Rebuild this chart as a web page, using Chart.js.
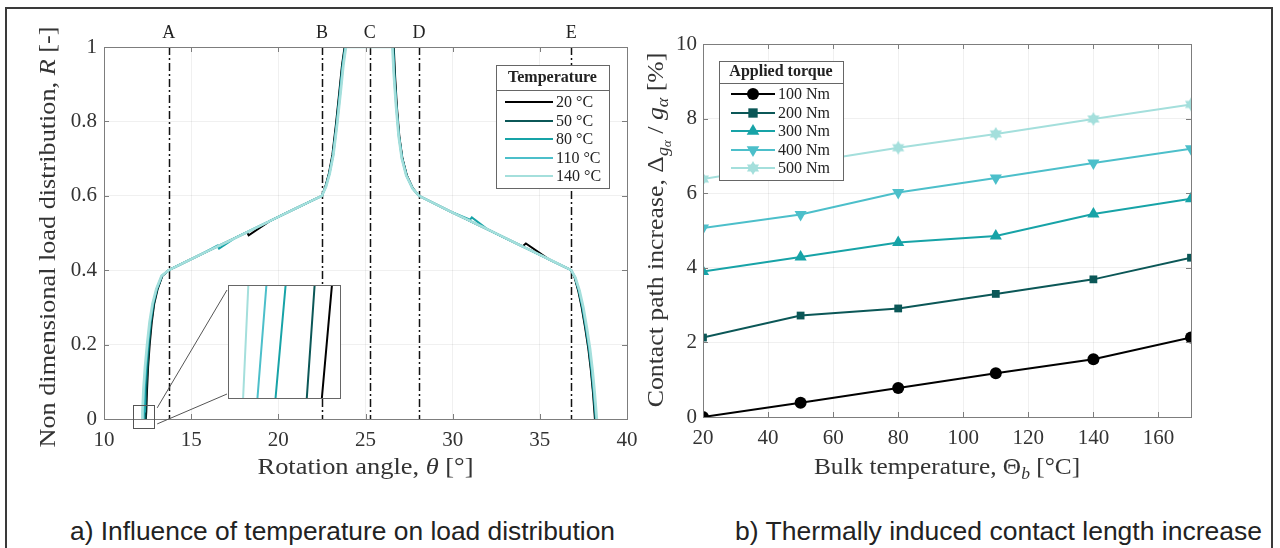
<!DOCTYPE html>
<html>
<head>
<meta charset="utf-8">
<script src="https://cdn.jsdelivr.net/npm/chart.js@4.4.0/dist/chart.umd.min.js"></script>
<style>
  body { margin: 0; background: #fff; width: 1280px; height: 548px; overflow: hidden; position: relative; }
  .frame { position: absolute; left: 5px; top: 7px; width: 1264px; height: 560px; border: 2px solid #3a3a3a; }
  .box { position: absolute; }
  .cap { position: absolute; top: 519px; white-space: nowrap; font-family: 'Liberation Sans Narrow', 'Liberation Sans', sans-serif;
         font-size: 25px; line-height: 25px; color: #222; transform-origin: left top; }
</style>
</head>
<body>
<div class="frame"></div>
<div class="box" style="left:0;top:0;width:640px;height:480px"><canvas id="loadChart"></canvas></div>
<div class="box" style="left:228px;top:285px;width:113px;height:114px;background:#fff"><canvas id="insetChart"></canvas></div>
<div class="box" style="left:640px;top:0;width:640px;height:480px"><canvas id="torqueChart"></canvas></div>
<div class="cap" data-w="545" style="left:70px">a) Influence of temperature on load distribution</div>
<div class="cap" data-w="527" style="left:735px">b) Thermally induced contact length increase</div>

<script>
// ---- chart a: load distribution vs rotation angle ----
const tempLabels = ['20 °C', '50 °C', '80 °C', '110 °C', '140 °C'];
const tempColors = ['#000000', '#0b5757', '#17a3a7', '#4cbfca', '#a4dfdc'];
const angleTicks = [10, 15, 20, 25, 30, 35, 40];
const loadTicks = [0, 0.2, 0.4, 0.6, 0.8, 1];
const markerAngles = [13.72, 22.5, 25.25, 28.07, 36.8];
const markerNames = ['A', 'B', 'C', 'D', 'E'];

const load20 = [[12.399,0],[12.426,0.02],[12.47,0.08],[12.53,0.14],[12.62,0.2],[12.74,0.26],[12.88,0.31],[13.08,0.35],[13.35,0.385],[13.72,0.40],
  [15.5,0.441],[17.5,0.486],[18.2,0.502],[18.3,0.494],[19.5,0.532],[21.0,0.566],[22.5,0.60],[22.7,0.625],[22.9,0.66],[23.1,0.71],[23.3,0.79],
  [23.5,0.88],[23.65,0.95],[23.8,1.0],[26.62,1.0],[26.7,0.92],[26.8,0.84],[26.94,0.76],[27.12,0.70],[27.37,0.655],[27.72,0.62],[28.07,0.60],
  [30.0,0.555],[32.0,0.51],[34.0,0.464],[34.2,0.472],[35.5,0.43],[36.8,0.40],[37.0,0.38],[37.2,0.345],[37.4,0.30],[37.6,0.245],[37.78,0.19],
  [37.93,0.13],[38.05,0.07],[38.16,0]];
const load50 = [[12.359,0],[12.38,0.02],[12.43,0.08],[12.5,0.14],[12.59,0.2],[12.71,0.26],[12.86,0.31],[13.06,0.35],[13.34,0.385],[13.72,0.40],
  [15.5,0.441],[17.5,0.486],[19.5,0.532],[21.0,0.566],[22.5,0.60],[22.71,0.625],[22.92,0.66],[23.12,0.71],[23.32,0.79],
  [23.52,0.88],[23.67,0.95],[23.82,1.0],[26.6,1.0],[26.68,0.92],[26.78,0.84],[26.93,0.76],[27.11,0.70],[27.36,0.655],[27.71,0.62],[28.07,0.60],
  [30.0,0.555],[32.0,0.51],[34.0,0.464],[35.5,0.43],[36.8,0.40],[37.01,0.38],[37.22,0.345],[37.42,0.30],[37.62,0.245],[37.8,0.19],
  [37.95,0.13],[38.07,0.07],[38.19,0]];
const load80 = [[12.276,0],[12.303,0.02],[12.35,0.08],[12.43,0.14],[12.53,0.2],[12.66,0.26],[12.82,0.31],[13.03,0.35],[13.32,0.385],[13.72,0.40],
  [15.5,0.441],[16.5,0.466],[16.6,0.458],[17.5,0.486],[19.5,0.532],[21.0,0.566],[22.5,0.60],[22.72,0.625],[22.93,0.66],[23.14,0.71],[23.34,0.79],
  [23.54,0.88],[23.69,0.95],[23.84,1.0],[26.58,1.0],[26.66,0.92],[26.77,0.84],[26.92,0.76],[27.1,0.70],[27.35,0.655],[27.7,0.62],[28.07,0.60],
  [30.0,0.555],[31.0,0.536],[31.1,0.542],[32.0,0.51],[34.0,0.464],[35.5,0.43],[36.8,0.40],[37.02,0.38],[37.24,0.345],[37.45,0.30],[37.65,0.245],
  [37.83,0.19],[37.98,0.13],[38.1,0.07],[38.22,0]];
const load110 = [[12.228,0],[12.252,0.02],[12.3,0.08],[12.39,0.14],[12.5,0.2],[12.64,0.26],[12.8,0.31],[13.02,0.35],[13.31,0.385],[13.72,0.40],
  [15.5,0.441],[17.5,0.486],[19.5,0.532],[21.0,0.566],[22.5,0.60],[22.73,0.625],[22.94,0.66],[23.15,0.71],[23.36,0.79],
  [23.56,0.88],[23.71,0.95],[23.86,1.0],[26.56,1.0],[26.64,0.92],[26.76,0.84],[26.91,0.76],[27.09,0.70],[27.34,0.655],[27.7,0.62],[28.07,0.60],
  [30.0,0.555],[32.0,0.51],[34.0,0.464],[35.5,0.43],[36.8,0.40],[37.03,0.38],[37.26,0.345],[37.47,0.30],[37.67,0.245],[37.85,0.19],
  [38.0,0.13],[38.12,0.07],[38.24,0]];
const load140 = [[12.19,0],[12.204,0.02],[12.26,0.08],[12.35,0.14],[12.47,0.2],[12.61,0.26],[12.78,0.31],[13.0,0.35],[13.3,0.385],[13.72,0.40],
  [15.5,0.441],[17.5,0.486],[19.5,0.532],[21.0,0.566],[22.5,0.60],[22.74,0.625],[22.95,0.66],[23.16,0.71],[23.37,0.79],
  [23.58,0.88],[23.73,0.95],[23.88,1.0],[26.54,1.0],[26.63,0.92],[26.75,0.84],[26.9,0.76],[27.08,0.70],[27.33,0.655],[27.69,0.62],[28.07,0.60],
  [30.0,0.555],[32.0,0.51],[34.0,0.464],[35.5,0.43],[36.8,0.40],[37.04,0.38],[37.28,0.345],[37.5,0.30],[37.7,0.245],[37.88,0.19],
  [38.03,0.13],[38.15,0.07],[38.27,0]];
const loadSeries = [load20, load50, load80, load110, load140];

// the little box around the curve feet and the range shown enlarged in the inset
const zoomBox = { x0: 11.68, x1: 12.88, y0: -0.024, y1: 0.038 };
const insetRange = { x0: 12.15, x1: 12.45, y0: 0, y1: 0.02 };

// ---- chart b: contact path increase vs bulk temperature ----
const bulkTemps = [20, 50, 80, 110, 140, 170];
const tempAxisTicks = [20, 40, 60, 80, 100, 120, 140, 160];
const incTicks = [0, 2, 4, 6, 8, 10];
const torqueLabels = ['100 Nm', '200 Nm', '300 Nm', '400 Nm', '500 Nm'];
const inc100 = [0.00, 0.38, 0.78, 1.17, 1.55, 2.13];
const inc200 = [2.13, 2.72, 2.91, 3.30, 3.69, 4.27];
const inc300 = [3.90, 4.29, 4.68, 4.85, 5.44, 5.85];
const inc400 = [5.07, 5.43, 6.02, 6.41, 6.81, 7.19];
const inc500 = [6.38, 6.80, 7.22, 7.59, 7.99, 8.38];
const incSeries = [inc100, inc200, inc300, inc400, inc500];

const SERIF = "'Liberation Serif', 'DejaVu Serif', serif";
Chart.defaults.font.family = SERIF;
Chart.defaults.color = '#333';
Chart.defaults.animation = false;

function hexagram(color, r) {
  const c = document.createElement('canvas');
  const s = Math.ceil(r * 2 + 2);
  c.width = c.height = s;
  const g = c.getContext('2d');
  g.fillStyle = color;
  for (const rot of [0, Math.PI]) {
    g.beginPath();
    for (let k = 0; k < 3; k++) {
      const a = rot - Math.PI / 2 + k * 2 * Math.PI / 3;
      g.lineTo(s / 2 + r * Math.cos(a), s / 2 + r * Math.sin(a));
    }
    g.closePath();
    g.fill();
  }
  return c;
}

const torqueMarkers = [
  { pointStyle: 'circle', radius: 6, rotation: 0 },
  { pointStyle: 'rect', radius: 5.5, rotation: 0 },
  { pointStyle: 'triangle', radius: 7, rotation: 0 },
  { pointStyle: 'triangle', radius: 7, rotation: 180 },
  { pointStyle: hexagram(tempColors[4], 7), radius: 7, rotation: 0 }
];

// axis titles: serif runs, stretched a bit to get the wide LaTeX look
function drawRuns(ctx, runs, cx, cy, angle, stretch) {
  ctx.save();
  ctx.translate(cx, cy);
  ctx.rotate(angle);
  ctx.scale(stretch, 1);
  ctx.textAlign = 'left';
  ctx.textBaseline = 'alphabetic';
  ctx.fillStyle = '#333';
  let w = 0;
  runs.forEach(r => { ctx.font = r.f; r.w = ctx.measureText(r.t).width; w += r.w; });
  let x = -w / 2;
  runs.forEach(r => { ctx.font = r.f; ctx.fillText(r.t, x, 8 + (r.dy || 0)); x += r.w; });
  ctx.restore();
}

function drawFrame(chart, xTicks, yTicks) {
  const { ctx, chartArea: a, scales: { x, y } } = chart;
  ctx.save();
  ctx.strokeStyle = '#7d7d7d';
  ctx.lineWidth = 1;
  ctx.beginPath();
  xTicks.forEach(v => {
    const px = Math.round(x.getPixelForValue(v)) + 0.5;
    ctx.moveTo(px, a.bottom); ctx.lineTo(px, a.bottom - 5);
    ctx.moveTo(px, a.top); ctx.lineTo(px, a.top + 5);
  });
  yTicks.forEach(v => {
    const py = Math.round(y.getPixelForValue(v)) + 0.5;
    ctx.moveTo(a.left, py); ctx.lineTo(a.left + 5, py);
    ctx.moveTo(a.right, py); ctx.lineTo(a.right - 5, py);
  });
  ctx.stroke();
  ctx.strokeRect(Math.round(a.left) + 0.5, Math.round(a.top) + 0.5, Math.round(a.width), Math.round(a.height));
  ctx.restore();
}

function drawMarker(ctx, m, color, x, y) {
  ctx.save();
  ctx.fillStyle = color;
  ctx.translate(x, y);
  if (typeof m.pointStyle !== 'string') {
    ctx.drawImage(m.pointStyle, -m.pointStyle.width / 2, -m.pointStyle.height / 2);
  } else if (m.pointStyle === 'circle') {
    ctx.beginPath(); ctx.arc(0, 0, m.radius, 0, Math.PI * 2); ctx.fill();
  } else if (m.pointStyle === 'rect') {
    const s = m.radius * Math.SQRT1_2 * 1.2;
    ctx.fillRect(-s, -s, 2 * s, 2 * s);
  } else {
    ctx.rotate(m.rotation * Math.PI / 180);
    const r = m.radius;
    ctx.beginPath();
    ctx.moveTo(0, -r); ctx.lineTo(r * 0.9, r * 0.55); ctx.lineTo(-r * 0.9, r * 0.55);
    ctx.closePath(); ctx.fill();
  }
  ctx.restore();
}

function drawLegendBox(ctx, box, title, labels, colors, markers) {
  ctx.save();
  ctx.fillStyle = '#fff';
  ctx.fillRect(box.x, box.y, box.w, box.h);
  ctx.strokeStyle = '#666';
  ctx.lineWidth = 1;
  ctx.strokeRect(box.x + 0.5, box.y + 0.5, box.w, box.h);
  ctx.beginPath();
  ctx.moveTo(box.x, box.sep + 0.5); ctx.lineTo(box.x + box.w, box.sep + 0.5);
  ctx.stroke();
  ctx.fillStyle = '#222';
  ctx.textBaseline = 'middle';
  ctx.textAlign = 'center';
  ctx.font = 'bold 16px ' + SERIF;
  ctx.fillText(title, box.x + box.w / 2, box.titleY);
  ctx.textAlign = 'left';
  ctx.font = '16px ' + SERIF;
  labels.forEach((lab, i) => {
    const yy = box.rowY[i];
    ctx.strokeStyle = colors[i];
    ctx.lineWidth = 2;
    ctx.beginPath(); ctx.moveTo(box.lx0, yy); ctx.lineTo(box.lx1, yy); ctx.stroke();
    if (markers) drawMarker(ctx, markers[i], colors[i], (box.lx0 + box.lx1) / 2, yy);
    ctx.fillStyle = '#222';
    ctx.fillText(lab, box.tx, yy + 1);
  });
  ctx.restore();
}

function fixTicks(list) {
  return scale => { scale.ticks = list.map(v => ({ value: v })); };
}

// x axes: fixed height, and no extra side padding for the end labels
function fixXHeight(h) {
  return s => { s.height = h; s.paddingLeft = 0; s.paddingRight = 0; };
}

// ---------- chart a ----------
const loadExtras = {
  id: 'loadExtras',
  beforeDatasetsDraw(chart) {
    const { ctx, chartArea: a, scales: { x } } = chart;
    ctx.save();
    ctx.strokeStyle = '#111';
    ctx.lineWidth = 1.5;
    ctx.setLineDash([8, 3, 2, 3]);
    markerAngles.forEach(v => {
      const px = Math.round(x.getPixelForValue(v)) + 0.5;
      ctx.beginPath(); ctx.moveTo(px, a.top); ctx.lineTo(px, a.bottom); ctx.stroke();
    });
    ctx.restore();
  },
  afterDraw(chart) {
    const { ctx, chartArea: a, scales: { x, y } } = chart;
    drawFrame(chart, angleTicks, loadTicks);
    ctx.save();
    ctx.fillStyle = '#222';
    ctx.font = '18px ' + SERIF;
    ctx.textAlign = 'center';
    ctx.textBaseline = 'alphabetic';
    markerAngles.forEach((v, i) => ctx.fillText(markerNames[i], x.getPixelForValue(v), a.top - 9));
    // zoom box + connectors to the inset
    const bx0 = x.getPixelForValue(zoomBox.x0), bx1 = x.getPixelForValue(zoomBox.x1);
    const by0 = y.getPixelForValue(zoomBox.y1), by1 = y.getPixelForValue(zoomBox.y0);
    ctx.strokeStyle = '#555';
    ctx.lineWidth = 1;
    ctx.strokeRect(Math.round(bx0) + 0.5, Math.round(by0) + 0.5, Math.round(bx1 - bx0), Math.round(by1 - by0));
    ctx.beginPath();
    ctx.moveTo(bx1 + 3, by0 + 3); ctx.lineTo(227, 290);
    ctx.moveTo(bx1 + 3, by1 - 4); ctx.lineTo(227, 394);
    ctx.stroke();
    ctx.restore();
    drawLegendBox(ctx, { x: 496, y: 65, w: 113, h: 123, sep: 90, titleY: 78,
      rowY: [102, 121, 139, 158, 176], lx0: 505, lx1: 553, tx: 556 }, 'Temperature', tempLabels, tempColors, null);
    const f = '23px ' + SERIF, fi = 'italic 23px ' + SERIF;
    drawRuns(ctx, [{ t: 'Rotation angle, ', f }, { t: 'θ', f: fi }, { t: ' [°]', f }], (a.left + a.right) / 2, 466, 0, 1.15);
    drawRuns(ctx, [{ t: 'Non dimensional load distribution, ', f }, { t: 'R', f: fi }, { t: ' [-]', f }], 47, 237, -Math.PI / 2, 1.14);
  }
};

new Chart(document.getElementById('loadChart'), {
  type: 'scatter',
  data: {
    datasets: loadSeries.map((s, i) => ({
      label: tempLabels[i],
      data: s.map(p => ({ x: p[0], y: p[1] })),
      showLine: true,
      borderColor: tempColors[i],
      borderWidth: i === 4 ? 2.6 : 2,
      pointRadius: 0,
      order: 4 - i
    }))
  },
  options: {
    responsive: true,
    maintainAspectRatio: false,
    devicePixelRatio: 1,
    layout: { padding: { top: 47, right: 13, bottom: 0, left: 0 } },
    plugins: { legend: { display: false }, tooltip: { enabled: false } },
    scales: {
      x: {
        type: 'linear', min: 10, max: 40,
        afterBuildTicks: fixTicks(angleTicks),
        afterFit: fixXHeight(61),
        grid: { color: 'rgba(0,0,0,0.06)', drawTicks: false },
        border: { display: false },
        ticks: { padding: 9, font: { size: 21 }, color: '#333', callback: v => String(v) }
      },
      y: {
        type: 'linear', min: 0, max: 1,
        afterBuildTicks: fixTicks(loadTicks),
        afterFit: s => { s.width = 104; },
        grid: { color: 'rgba(0,0,0,0.06)', drawTicks: false },
        border: { display: false },
        ticks: { padding: 7, font: { size: 21 }, color: '#333', callback: v => String(v) }
      }
    }
  },
  plugins: [loadExtras]
});

// inset: same curves, enlarged around their feet
new Chart(document.getElementById('insetChart'), {
  type: 'scatter',
  data: {
    datasets: loadSeries.map((s, i) => ({
      data: s.map(p => ({ x: p[0], y: p[1] })),
      showLine: true,
      borderColor: tempColors[i],
      borderWidth: 2,
      pointRadius: 0
    }))
  },
  options: {
    responsive: true,
    maintainAspectRatio: false,
    devicePixelRatio: 1,
    layout: { padding: 0 },
    plugins: { legend: { display: false }, tooltip: { enabled: false } },
    scales: {
      x: { type: 'linear', display: false, min: insetRange.x0, max: insetRange.x1 },
      y: { type: 'linear', display: false, min: insetRange.y0, max: insetRange.y1 }
    }
  },
  plugins: [{
    id: 'insetFrame',
    afterDraw(chart) {
      const { ctx, chartArea: a } = chart;
      ctx.save();
      ctx.strokeStyle = '#666';
      ctx.lineWidth = 1;
      ctx.strokeRect(a.left + 0.5, a.top + 0.5, a.width - 1, a.height - 1);
      ctx.restore();
    }
  }]
});

// ---------- chart b ----------
const torqueExtras = {
  id: 'torqueExtras',
  afterDatasetsDraw(chart) {
    const { ctx, chartArea: a } = chart;
    drawFrame(chart, tempAxisTicks, incTicks);
    drawLegendBox(ctx, { x: 79, y: 61, w: 124, h: 119, sep: 83, titleY: 72,
      rowY: [94, 113, 131, 150, 168], lx0: 91, lx1: 135, tx: 138 }, 'Applied torque', torqueLabels, tempColors, torqueMarkers);
    const f = '23px ' + SERIF, fi = 'italic 23px ' + SERIF;
    const fs = 'italic 16px ' + SERIF, fss = 'italic 12px ' + SERIF;
    drawRuns(ctx, [{ t: 'Bulk temperature, Θ', f }, { t: 'b', f: fs, dy: 5 }, { t: ' [°C]', f }], (a.left + a.right) / 2, 466, 0, 1.1);
    drawRuns(ctx, [{ t: 'Contact path increase, Δ', f }, { t: 'g', f: fs, dy: 5 }, { t: 'α', f: fss, dy: 8 },
      { t: ' / ', f }, { t: 'g', f: fi }, { t: 'α', f: fs, dy: 5 }, { t: ' [%]', f }], 15, 230, -Math.PI / 2, 1.12);
  }
};

new Chart(document.getElementById('torqueChart'), {
  type: 'scatter',
  data: {
    datasets: incSeries.map((s, i) => ({
      label: torqueLabels[i],
      data: s.map((v, k) => ({ x: bulkTemps[k], y: v })),
      showLine: true,
      borderColor: tempColors[i],
      backgroundColor: tempColors[i],
      borderWidth: 2,
      pointStyle: torqueMarkers[i].pointStyle,
      pointRadius: torqueMarkers[i].radius,
      pointRotation: torqueMarkers[i].rotation,
      pointBorderWidth: 0
    }))
  },
  options: {
    responsive: true,
    maintainAspectRatio: false,
    devicePixelRatio: 1,
    layout: { padding: { top: 44, right: 89, bottom: 0, left: 0 } },
    plugins: { legend: { display: false }, tooltip: { enabled: false } },
    scales: {
      x: {
        type: 'linear', min: 20, max: 170,
        afterBuildTicks: fixTicks(tempAxisTicks),
        afterFit: fixXHeight(63),
        grid: { color: 'rgba(0,0,0,0.06)', drawTicks: false },
        border: { display: false },
        ticks: { padding: 9, font: { size: 21 }, color: '#333', callback: v => String(v) }
      },
      y: {
        type: 'linear', min: 0, max: 10,
        afterBuildTicks: fixTicks(incTicks),
        afterFit: s => { s.width = 63; },
        grid: { color: 'rgba(0,0,0,0.06)', drawTicks: false },
        border: { display: false },
        ticks: { padding: 6, font: { size: 21 }, color: '#333', callback: v => String(v) }
      }
    }
  },
  plugins: [torqueExtras]
});

document.querySelectorAll('.cap').forEach(el => {
  el.style.transform = 'scaleX(' + (Number(el.dataset.w) / el.offsetWidth) + ')';
});
</script>
</body>
</html>
